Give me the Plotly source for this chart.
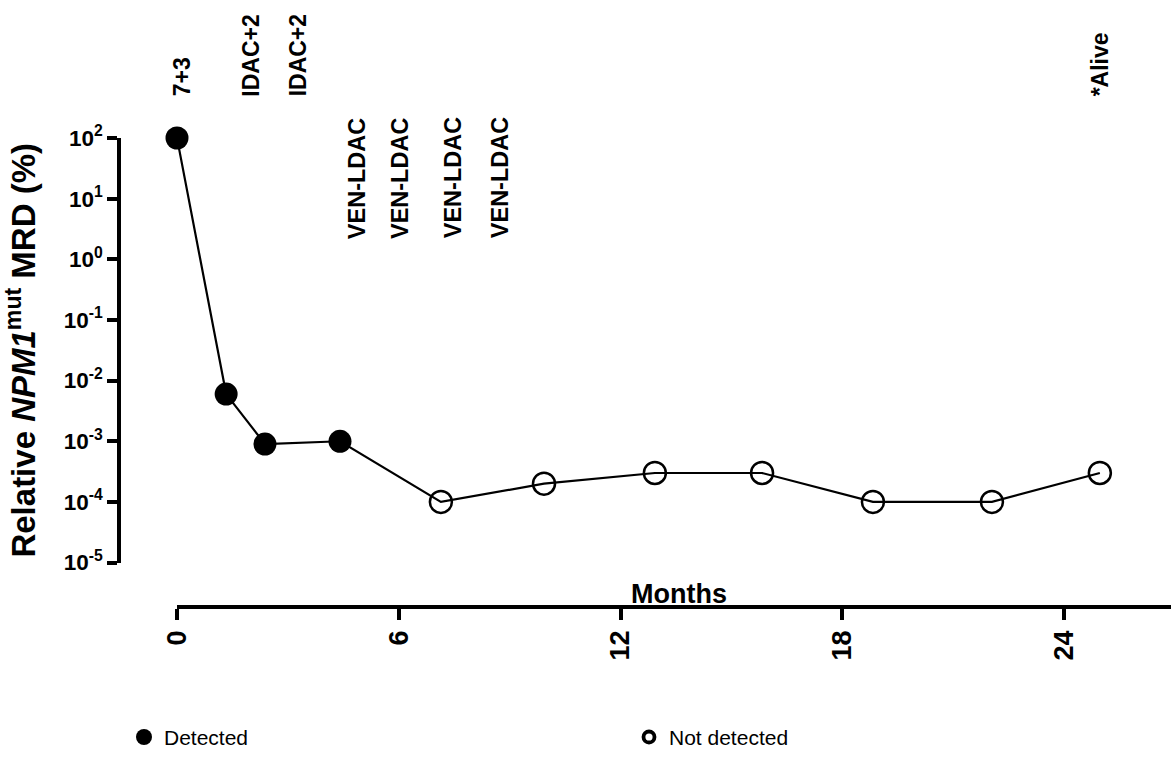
import plotly.graph_objects as go

# Follow-up time points (months) and relative NPM1mut MRD (%)
months = [0.0, 1.33, 2.38, 4.41, 7.14, 9.93, 12.93, 15.83, 18.83, 22.05, 24.97]
mrd_pct = [100, 6e-3, 9e-4, 1e-3, 1e-4, 2e-4, 3e-4, 3e-4, 1e-4, 1e-4, 3e-4]
detected = [True, True, True, True, False, False, False, False, False, False, False]

# Treatment / status labels above the curve
upper_labels = ["7+3", "IDAC+2", "IDAC+2", "*Alive"]
upper_months = [0.14, 1.98, 3.27, 24.97]
lower_labels = ["VEN-LDAC", "VEN-LDAC", "VEN-LDAC", "VEN-LDAC"]
lower_months = [4.87, 6.03, 7.47, 8.74]

x_ticks = [0, 6, 12, 18, 24]
y_exponents = [-5, -4, -3, -2, -1, 0, 1, 2]

FONT = "Liberation Sans, Arial, sans-serif"
W, H = 1171, 758
ML, MR, MT, MB = 119, 0, 138, 145
PW, PH = W - ML - MR, H - MT - MB
X0_PX = 177        # pixel position of month 0
Y_LOW_PX = 568     # pixel position of 1e-5

fig = go.Figure()

fig.add_trace(go.Scatter(
    x=months, y=mrd_pct, mode="lines",
    line=dict(color="black", width=2.2),
    showlegend=False, hoverinfo="skip", cliponaxis=False,
))

det_x = [m for m, d in zip(months, detected) if d]
det_y = [v for v, d in zip(mrd_pct, detected) if d]
nd_x = [m for m, d in zip(months, detected) if not d]
nd_y = [v for v, d in zip(mrd_pct, detected) if not d]

fig.add_trace(go.Scatter(
    x=det_x, y=det_y, mode="markers", name="Detected", showlegend=False,
    marker=dict(symbol="circle", size=23, color="black"),
    cliponaxis=False,
))
fig.add_trace(go.Scatter(
    x=nd_x, y=nd_y, mode="markers", name="Not detected", showlegend=False,
    marker=dict(symbol="circle-open", size=22, color="black",
                line=dict(width=2.5, color="black")),
    cliponaxis=False,
))

# Legend entries with their own key symbols
fig.add_trace(go.Scatter(
    x=[None], y=[None], mode="markers", name="Detected",
    marker=dict(symbol="circle", size=16, color="black"),
))
fig.add_trace(go.Scatter(
    x=[None], y=[None], mode="markers", name="Not detected",
    marker=dict(symbol="circle-open", size=11, color="black",
                line=dict(width=3.8, color="black")),
))

px_per_month = (1064 - X0_PX) / 24
x_max = (W - X0_PX) / px_per_month

def paper_y(py):
    return (MT + PH - py) / PH

def paper_x(px):
    return (px - ML) / PW

for lab, m in zip(upper_labels, upper_months):
    fig.add_annotation(x=m, y=paper_y(98), xref="x", yref="paper",
                       text=f"<b>{lab}</b>", textangle=-90, showarrow=False,
                       xanchor="center", yanchor="bottom",
                       font=dict(family=FONT, size=23, color="black"))
for lab, m in zip(lower_labels, lower_months):
    fig.add_annotation(x=m, y=paper_y(242), xref="x", yref="paper",
                       text=f"<b>{lab}</b>", textangle=-90, showarrow=False,
                       xanchor="center", yanchor="bottom",
                       font=dict(family=FONT, size=23.5, color="black"))

fig.add_annotation(x=(679 - X0_PX) / px_per_month, y=paper_y(617),
                   xref="x", yref="paper", text="<b>Months</b>", showarrow=False,
                   xanchor="center", yanchor="bottom",
                   font=dict(family=FONT, size=27, color="black"))

fig.update_layout(
    width=W, height=H,
    margin=dict(l=ML, r=MR, t=MT, b=MB, pad=0),
    paper_bgcolor="white", plot_bgcolor="white",
    font=dict(family=FONT, color="black"),
    showlegend=True,
    legend=dict(orientation="h", x=paper_x(124), y=paper_y(745), yanchor="middle",
                xanchor="left", entrywidth=460, entrywidthmode="pixels",
                font=dict(family=FONT, size=21, color="black"),
                bgcolor="rgba(0,0,0,0)"),
    xaxis=dict(
        domain=[(X0_PX - ML) / PW, 1], range=[0, x_max],
        anchor="free", position=0,
        showgrid=False, zeroline=False,
        showline=True, linecolor="black", linewidth=3.5,
        ticks="outside", ticklen=11, tickwidth=3.5, tickcolor="black",
        tickvals=x_ticks, ticktext=[f"<b>{t}</b>" for t in x_ticks],
        tickangle=-90, tickfont=dict(family=FONT, size=27, color="black"),
    ),
    yaxis=dict(
        type="log", range=[-5, 2],
        domain=[(MT + PH - Y_LOW_PX) / PH, 1],
        anchor="free", position=0,
        showgrid=False, zeroline=False,
        showline=True, linecolor="black", linewidth=3.5,
        ticks="outside", ticklen=10, tickwidth=3.5, tickcolor="black",
        tickvals=[10.0 ** e for e in y_exponents],
        ticktext=[f"<b>10<sup>{e}</sup></b>" for e in y_exponents],
        tickfont=dict(family=FONT, size=22.5, color="black"),
        title=dict(text="<b>Relative <i>NPM1</i><sup>mut</sup> MRD (%)</b>",
                   font=dict(family=FONT, size=33, color="black"), standoff=18),
    ),
)

fig.write_html("out.html")
